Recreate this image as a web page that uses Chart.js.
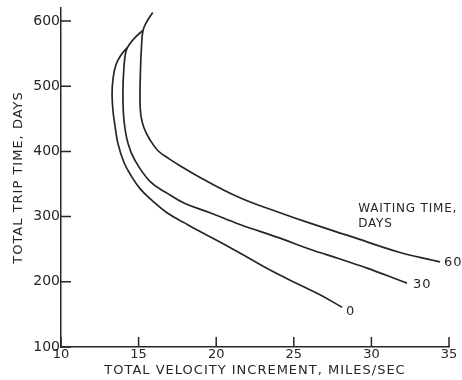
<!DOCTYPE html>
<html>
<head>
<meta charset="utf-8">
<script src="https://cdn.jsdelivr.net/npm/chart.js@4.4.1/dist/chart.umd.min.js"></script>
<style>
  html, body { margin: 0; padding: 0; background: #fff; }
  #wrap { width: 462px; height: 380px; }
</style>
</head>
<body>
<div id="wrap"><canvas id="tripChart"></canvas></div>
<script>
  // waiting time curves
  const waitingLabels = ['0', '30', '60'];

  const velocity0 = [14.25, 13.87, 13.54, 13.35, 13.29, 13.35, 13.48, 13.67, 14.06, 14.51, 15.09, 15.86, 16.83, 17.99, 18.96, 20.24, 21.98, 23.47, 25.40, 26.69, 28.11];
  const tripTime0 = [559, 548, 533, 511, 488, 462, 439, 412, 383, 363, 343, 325, 306, 290, 277, 261, 238, 218, 195, 180, 161];

  const velocity30 = [15.30, 14.83, 14.40, 14.19, 14.06, 13.99, 14.06, 14.32, 14.77, 15.73, 16.83, 17.99, 19.60, 21.53, 24.11, 26.04, 27.98, 29.72, 31.84, 32.29];
  const tripTime30 = [586, 576, 564, 554, 531, 488, 447, 412, 386, 354, 336, 320, 306, 288, 267, 250, 235, 221, 202, 198];

  const velocity60 = [15.91, 15.48, 15.28, 15.19, 15.12, 15.09, 15.15, 15.35, 15.73, 16.25, 16.95, 17.67, 18.96, 21.53, 24.11, 26.04, 28.62, 31.84, 33.97, 34.42];
  const tripTime60 = [613, 597, 585, 562, 524, 478, 455, 436, 418, 401, 389, 378, 360, 329, 306, 290, 270, 245, 233, 230.5];

  const xTicks = [10, 15, 20, 25, 30, 35];
  const yTicks = [100, 200, 300, 400, 500, 600];

  const ink = '#262626';
  const face = 'DejaVu Sans';

  function toPoints(xs, ys) {
    return xs.map((x, i) => ({ x: x, y: ys[i] }));
  }

  function curve(xs, ys) {
    return {
      data: toPoints(xs, ys),
      showLine: true,
      borderColor: ink,
      borderWidth: 1.7,
      pointRadius: 0,
      tension: 0.4,
      fill: false
    };
  }

  // inward tick marks, axis titles and the curve labels
  const inkPlugin = {
    id: 'inkPlugin',
    afterDraw(chart) {
      const { ctx, chartArea, scales } = chart;
      const xs = scales.x, ys = scales.y;
      ctx.save();
      ctx.strokeStyle = ink;
      ctx.lineWidth = 1.5;
      ctx.beginPath();
      xTicks.forEach(v => {
        const px = xs.getPixelForValue(v);
        ctx.moveTo(px, chartArea.bottom);
        ctx.lineTo(px, chartArea.bottom - 10);
      });
      yTicks.forEach(v => {
        const py = ys.getPixelForValue(v);
        ctx.moveTo(chartArea.left, py);
        ctx.lineTo(chartArea.left + 10, py);
      });
      ctx.stroke();

      ctx.fillStyle = ink;
      ctx.letterSpacing = '1px';
      ctx.textBaseline = 'middle';

      // axis titles
      ctx.font = '13px "' + face + '"';
      ctx.textAlign = 'center';
      ctx.fillText('TOTAL VELOCITY INCREMENT, MILES/SEC', (chartArea.left + chartArea.right) / 2, 371);
      ctx.save();
      ctx.translate(19, (chartArea.top + chartArea.bottom) / 2);
      ctx.rotate(-Math.PI / 2);
      ctx.fillText('TOTAL TRIP TIME, DAYS', 0, 0);
      ctx.restore();

      // label at the end of each curve
      const offsets = [[4, 4], [6, 2], [4, 1]];
      ctx.textAlign = 'left';
      ctx.font = '13px "' + face + '"';
      chart.data.datasets.forEach((ds, i) => {
        const pts = chart.getDatasetMeta(i).data;
        const last = pts[pts.length - 1];
        ctx.fillText(waitingLabels[i], last.x + offsets[i][0], last.y + offsets[i][1]);
      });

      ctx.font = '12px "' + face + '"';
      ctx.letterSpacing = '0.8px';
      ctx.fillText('WAITING TIME,', xs.getPixelForValue(29.15), ys.getPixelForValue(312));
      ctx.fillText('DAYS', xs.getPixelForValue(29.15), ys.getPixelForValue(289));
      ctx.restore();
    }
  };

  new Chart(document.getElementById('tripChart'), {
    type: 'scatter',
    data: {
      datasets: [
        curve(velocity0, tripTime0),
        curve(velocity30, tripTime30),
        curve(velocity60, tripTime60)
      ]
    },
    options: {
      responsive: true,
      maintainAspectRatio: false,
      animation: false,
      layout: { padding: { top: 7, right: 13, left: 0, bottom: 0 } },
      plugins: {
        legend: { display: false },
        tooltip: { enabled: false }
      },
      scales: {
        x: {
          type: 'linear',
          min: 10,
          max: 35,
          afterBuildTicks: s => { s.ticks = xTicks.map(v => ({ value: v })); },
          afterFit: s => { s.height = 33; },
          grid: { display: true, drawOnChartArea: false, drawTicks: false },
          border: { display: true, color: ink, width: 1.5 },
          ticks: { color: ink, padding: 1, font: { family: face, size: 13, lineHeight: 1 } }
        },
        y: {
          type: 'linear',
          min: 100,
          max: 620,
          afterBuildTicks: s => { s.ticks = yTicks.map(v => ({ value: v })); },
          afterFit: s => { s.width = 61; },
          grid: { display: true, drawOnChartArea: false, drawTicks: false },
          border: { display: true, color: ink, width: 1.5 },
          ticks: { color: ink, padding: 1, font: { family: face, size: 14, lineHeight: 1 } }
        }
      }
    },
    plugins: [inkPlugin]
  });
</script>
</body>
</html>
